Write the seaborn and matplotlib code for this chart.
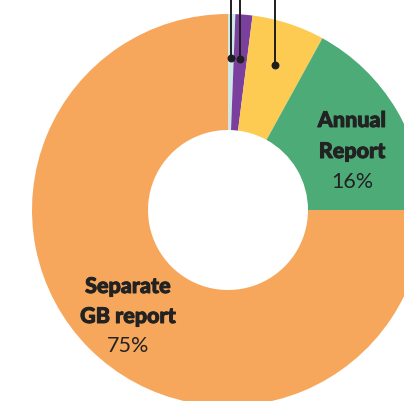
import numpy as np
import seaborn as sns
import matplotlib.pyplot as plt
import matplotlib.patheffects as pe

# --- data ---
categories = ["Other A", "Other B", "Other C", "Annual Report", "Separate GB report"]
shares = [0.6, 1.4, 6.0, 17.0, 75.0]
colors = ["#cde8e5", "#7b3f9e", "#fdcb52", "#4dab78", "#f6a75c"]
label_lines = {"Annual Report": ["Annual", "Report"],
               "Separate GB report": ["Separate", "GB report"]}
label_pct = {"Annual Report": "16%", "Separate GB report": "75%"}

sns.set_theme(style="white")
plt.rcParams['font.family'] = ['Lato', 'DejaVu Sans']

W, H = 404, 401
fig = plt.figure(figsize=(W / 100, H / 100), dpi=100)
ax = fig.add_axes([0, 0, 1, 1])

cx, cy = 228, H - 210
r_out, r_in = 196, 80

wedges, _ = ax.pie(shares, colors=colors, startangle=90, counterclock=False,
                   center=(cx, cy), radius=r_out, frame=True,
                   wedgeprops=dict(width=r_out - r_in, linewidth=0))

ax.set_xlim(0, W)
ax.set_ylim(0, H)
ax.set_aspect('equal')
ax.axis('off')

# leader lines for the small slices
for w in wedges[:3]:
    mid = np.deg2rad((w.theta1 + w.theta2) / 2)
    px = cx + 152 * np.cos(mid)
    py = cy + 152 * np.sin(mid)
    ax.plot([px, px], [py, H + 5], color="#1e1e1e", lw=1.4, solid_capstyle='butt')
    ax.scatter([px], [py], s=22, color="#1e1e1e", zorder=5)

# labels (baselines in pixels from top)
heavy = [pe.withStroke(linewidth=0.7, foreground="#222222")]

def put_label(key, x, baselines):
    for txt, b in zip(label_lines[key], baselines[:2]):
        ax.text(x, H - b, txt, ha='center', va='baseline', fontsize=15.5,
                fontweight='black', color="#222222", path_effects=heavy)
    ax.text(x, H - baselines[2], label_pct[key], ha='center', va='baseline',
            fontsize=15.5, fontweight='normal', color="#222222")

put_label("Annual Report", 352, [127, 158, 188])
put_label("Separate GB report", 128, [293, 323, 352])

plt.savefig("out.png", dpi=100)
plt.close()
